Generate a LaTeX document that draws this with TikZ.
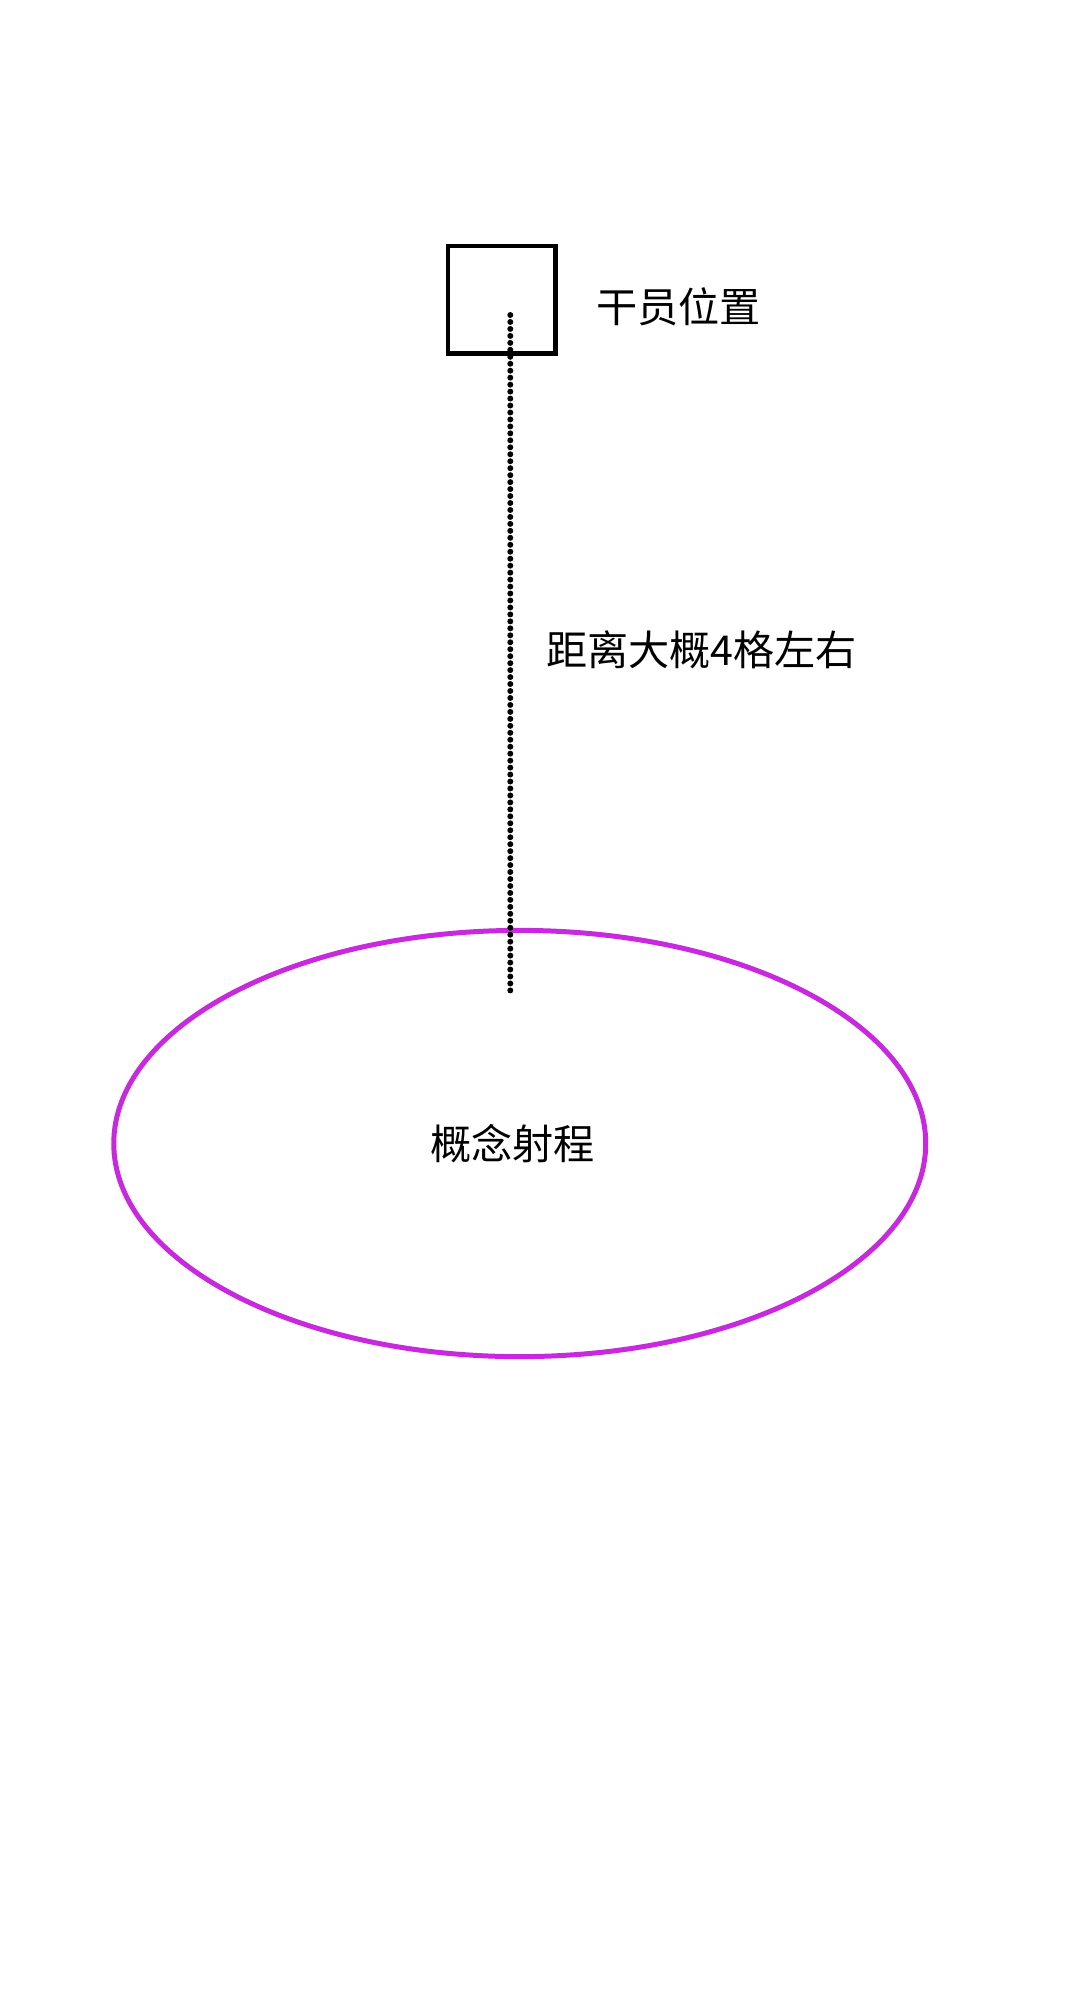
\documentclass[tikz,border=0pt]{standalone}
\usepackage{fontspec}
\usetikzlibrary{shapes.geometric}
\newfontfamily\cjk{Noto Sans CJK SC}
\definecolor{rangepink}{RGB}{200,40,222}
\tikzset{
  lbl/.style = {font=\cjk\fontsize{11.7}{14}\selectfont, inner sep=0pt},
  postbox/.style = {draw, line width=1.34pt, minimum size=1.075cm, inner sep=0pt},
  rangering/.style = {draw=rangepink, ellipse, line width=1.42pt,
    minimum width=8.115cm, minimum height=4.26cm, inner sep=0pt},
  dotline/.style = {line width=1.7pt, line cap=round, dash pattern=on 0pt off 1.98pt}
}
\begin{document}
\begin{tikzpicture}
          [x = 0.01cm, y = -0.01cm]
          \useasboundingbox[fill=white] (0,0) rectangle (1080,2014);
          \node[postbox] (post) at (501.8,299.8) {};
          \node[lbl] (postLabel) at (678.5,307) {干员位置};
          \node[rangering] (range) at (519.75,1143.5) {};
          \node[lbl] (rangeLabel) at (512.5,1144) {概念射程};
          \coordinate (lineTop) at (510.3,315);
          \coordinate (lineEnd) at (510.3,993);
          \draw[dotline] (lineTop) -- (lineEnd);
          \node[lbl] (distLabel) at (701.5,650) {距离大概4格左右};
        \end{tikzpicture}
\end{document}
